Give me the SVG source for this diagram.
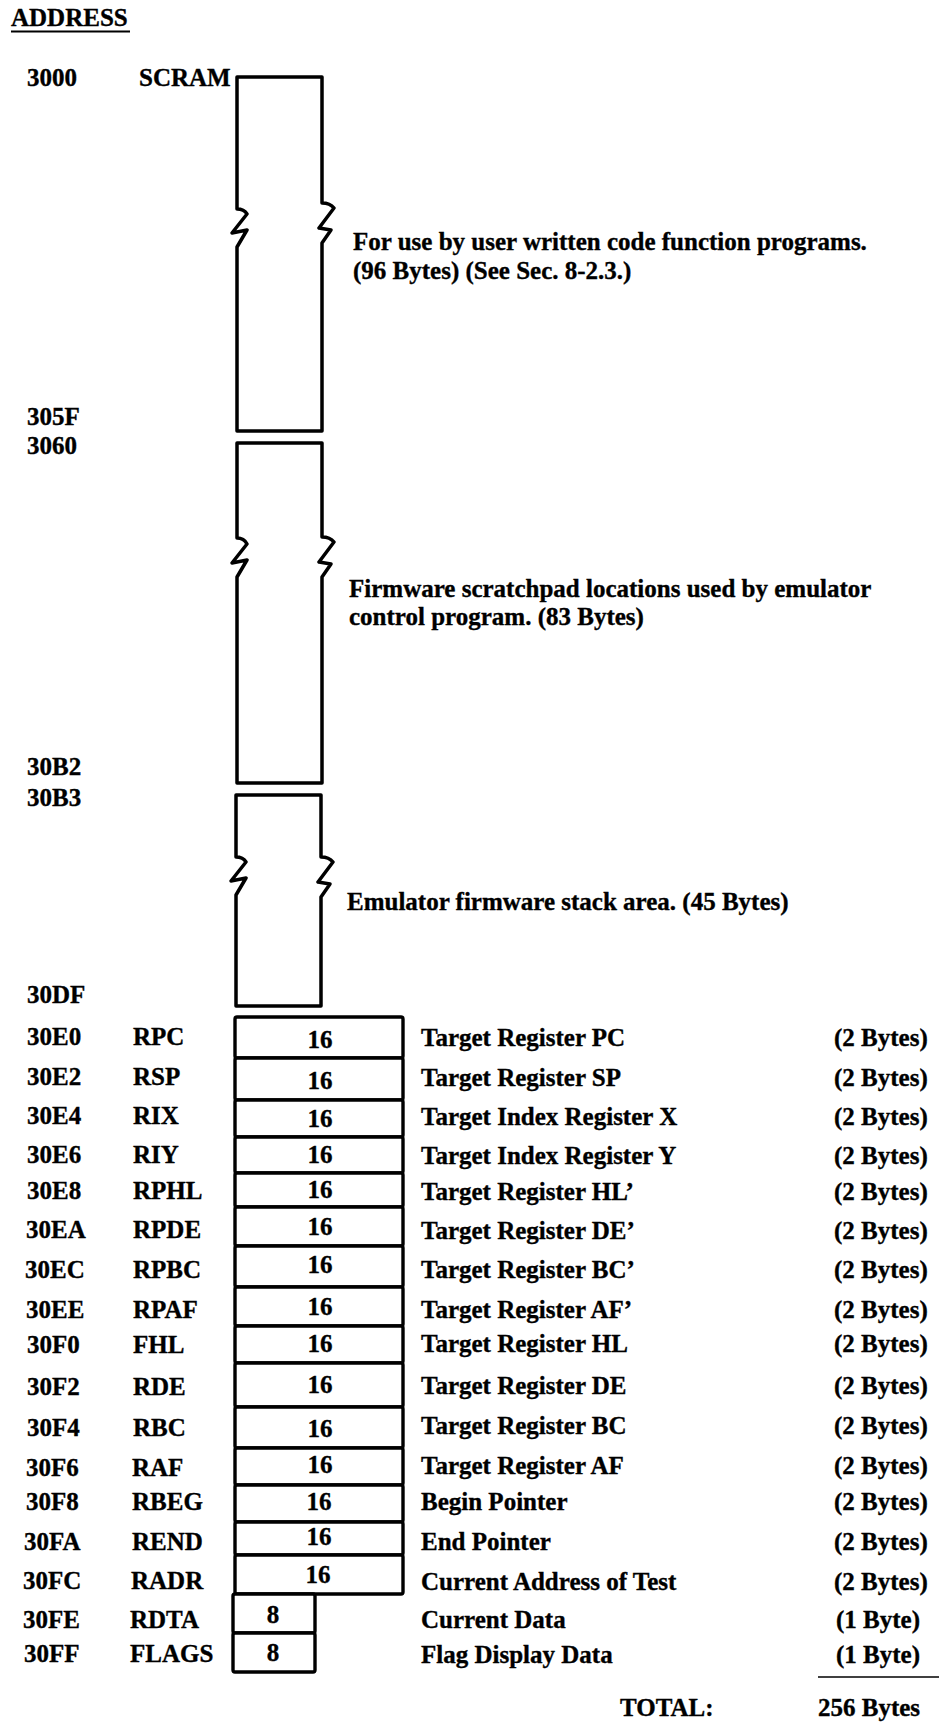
<svg xmlns="http://www.w3.org/2000/svg" width="951" height="1723" viewBox="0 0 951 1723">
<style>
  text { font-family: "Liberation Serif", "Times New Roman", serif; font-weight: bold; font-size: 25px; fill: #000; stroke: #000; stroke-width: 0.35; }
  .mid { text-anchor: middle; }
  .box { fill: none; stroke: #000; stroke-width: 3.5; stroke-linejoin: round; stroke-linecap: round; }
  .reg { fill: #fff; stroke: #000; stroke-width: 3.4; }
  .rule { stroke: #000; fill: none; }
</style>
<rect width="951" height="1723" fill="#fff"/>

<g id="header">
  <text x="11" y="26">ADDRESS</text>
  <line class="rule" x1="11" y1="31.5" x2="130" y2="31.5" stroke-width="2"/>
</g>

<g id="region-scram">
  <path class="box" d="M237,77 H322 V203 Q330,203 334,208 L319,228 L331,230 L322,243 V431 H237 V247 L247,230 L232,233 L247,214 Q244,209 237,209 Z"/>
  <text x="27" y="86">3000</text>
  <text x="139" y="86">SCRAM</text>
  <text x="27" y="425">305F</text>
  <text x="353" y="250">For use by user written code function programs.</text>
  <text x="353" y="279">(96 Bytes) (See Sec. 8-2.3.)</text>
</g>

<g id="region-scratchpad">
  <path class="box" d="M237,443 H322 V537 Q330,537 334,542 L319,562 L331,564 L322,577 V783 H237 V577 L247,560 L232,563 L247,544 Q244,538 237,538 Z"/>
  <text x="27" y="454">3060</text>
  <text x="27" y="775">30B2</text>
  <text x="349" y="597">Firmware scratchpad locations used by emulator</text>
  <text x="349" y="625">control program. (83 Bytes)</text>
</g>

<g id="region-stack">
  <path class="box" d="M236,795 H321 V857 Q329,857 333,862 L318,882 L330,884 L321,897 V1006 H236 V895 L246,878 L231,881 L246,862 Q243,857 236,857 Z"/>
  <text x="27" y="806">30B3</text>
  <text x="27" y="1003">30DF</text>
  <text x="347" y="910">Emulator firmware stack area. (45 Bytes)</text>
</g>

<g id="reg-30E0"><rect class="reg" x="235" y="1017" width="168" height="41" rx="2"/><text x="27" y="1045">30E0</text><text x="133" y="1045">RPC</text><text class="mid" x="320" y="1048">16</text><text x="421" y="1046">Target Register PC</text><text x="834" y="1046">(2 Bytes)</text></g>
<g id="reg-30E2"><rect class="reg" x="235" y="1058" width="168" height="42" rx="2"/><text x="27" y="1085">30E2</text><text x="133" y="1085">RSP</text><text class="mid" x="320" y="1089">16</text><text x="421" y="1086">Target Register SP</text><text x="834" y="1086">(2 Bytes)</text></g>
<g id="reg-30E4"><rect class="reg" x="235" y="1100" width="168" height="37" rx="2"/><text x="27" y="1124">30E4</text><text x="133" y="1124">RIX</text><text class="mid" x="320" y="1127">16</text><text x="421" y="1125">Target Index Register X</text><text x="834" y="1125">(2 Bytes)</text></g>
<g id="reg-30E6"><rect class="reg" x="235" y="1137" width="168" height="36" rx="2"/><text x="27" y="1163">30E6</text><text x="133" y="1163">RIY</text><text class="mid" x="320" y="1163">16</text><text x="421" y="1164">Target Index Register Y</text><text x="834" y="1164">(2 Bytes)</text></g>
<g id="reg-30E8"><rect class="reg" x="235" y="1173" width="168" height="34" rx="2"/><text x="27" y="1199">30E8</text><text x="133" y="1199">RPHL</text><text class="mid" x="320" y="1198">16</text><text x="421" y="1200">Target Register HL’</text><text x="834" y="1200">(2 Bytes)</text></g>
<g id="reg-30EA"><rect class="reg" x="235" y="1207" width="168" height="39" rx="2"/><text x="26" y="1238">30EA</text><text x="133" y="1238">RPDE</text><text class="mid" x="320" y="1235">16</text><text x="421" y="1239">Target Register DE’</text><text x="834" y="1239">(2 Bytes)</text></g>
<g id="reg-30EC"><rect class="reg" x="235" y="1246" width="168" height="41" rx="2"/><text x="25" y="1278">30EC</text><text x="133" y="1278">RPBC</text><text class="mid" x="320" y="1273">16</text><text x="421" y="1278">Target Register BC’</text><text x="834" y="1278">(2 Bytes)</text></g>
<g id="reg-30EE"><rect class="reg" x="235" y="1287" width="168" height="39" rx="2"/><text x="26" y="1318">30EE</text><text x="133" y="1318">RPAF</text><text class="mid" x="320" y="1315">16</text><text x="421" y="1318">Target Register AF’</text><text x="834" y="1318">(2 Bytes)</text></g>
<g id="reg-30F0"><rect class="reg" x="235" y="1326" width="168" height="37" rx="2"/><text x="27" y="1353">30F0</text><text x="133" y="1353">FHL</text><text class="mid" x="320" y="1352">16</text><text x="421" y="1352">Target Register HL</text><text x="834" y="1352">(2 Bytes)</text></g>
<g id="reg-30F2"><rect class="reg" x="235" y="1363" width="168" height="44" rx="2"/><text x="27" y="1395">30F2</text><text x="133" y="1395">RDE</text><text class="mid" x="320" y="1393">16</text><text x="421" y="1394">Target Register DE</text><text x="834" y="1394">(2 Bytes)</text></g>
<g id="reg-30F4"><rect class="reg" x="235" y="1407" width="168" height="41" rx="2"/><text x="27" y="1436">30F4</text><text x="133" y="1436">RBC</text><text class="mid" x="320" y="1437">16</text><text x="421" y="1434">Target Register BC</text><text x="834" y="1434">(2 Bytes)</text></g>
<g id="reg-30F6"><rect class="reg" x="235" y="1448" width="168" height="37" rx="2"/><text x="26" y="1476">30F6</text><text x="132" y="1476">RAF</text><text class="mid" x="320" y="1473">16</text><text x="421" y="1474">Target Register AF</text><text x="834" y="1474">(2 Bytes)</text></g>
<g id="reg-30F8"><rect class="reg" x="235" y="1485" width="168" height="37" rx="2"/><text x="26" y="1510">30F8</text><text x="132" y="1510">RBEG</text><text class="mid" x="319" y="1510">16</text><text x="421" y="1510">Begin Pointer</text><text x="834" y="1510">(2 Bytes)</text></g>
<g id="reg-30FA"><rect class="reg" x="235" y="1522" width="168" height="33" rx="2"/><text x="24" y="1550">30FA</text><text x="132" y="1550">REND</text><text class="mid" x="319" y="1545">16</text><text x="421" y="1550">End Pointer</text><text x="834" y="1550">(2 Bytes)</text></g>
<g id="reg-30FC"><rect class="reg" x="235" y="1555" width="168" height="39" rx="2"/><text x="23" y="1589">30FC</text><text x="131" y="1589">RADR</text><text class="mid" x="318" y="1583">16</text><text x="421" y="1590">Current Address of Test</text><text x="834" y="1590">(2 Bytes)</text></g>
<g id="reg-30FE"><rect class="reg" x="233" y="1594" width="82" height="39" rx="2"/><text x="23" y="1628">30FE</text><text x="130" y="1628">RDTA</text><text class="mid" x="273" y="1623">8</text><text x="421" y="1628">Current Data</text><text x="836" y="1628">(1 Byte)</text></g>
<g id="reg-30FF"><rect class="reg" x="233" y="1633" width="82" height="39" rx="2"/><text x="24" y="1662">30FF</text><text x="130" y="1662">FLAGS</text><text class="mid" x="273" y="1661">8</text><text x="421" y="1663">Flag Display Data</text><text x="836" y="1663">(1 Byte)</text></g>

<g id="total">
  <line class="rule" x1="818" y1="1677" x2="939" y2="1677" stroke-width="1.5"/>
  <text x="620" y="1716">TOTAL:</text>
  <text x="818" y="1716">256 Bytes</text>
</g>

<g id="connectors"></g>
</svg>
